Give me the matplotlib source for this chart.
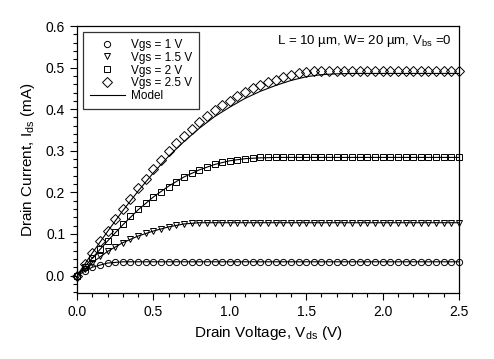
import numpy as np
import matplotlib
matplotlib.use("Agg")
import matplotlib.pyplot as plt
from matplotlib.ticker import MultipleLocator

plt.rcParams['font.family'] = ['Liberation Sans', 'DejaVu Sans']
plt.rcParams['mathtext.fontset'] = 'custom'
plt.rcParams['mathtext.rm'] = 'Liberation Sans'
plt.rcParams['mathtext.it'] = 'Liberation Sans'

# measured points, Vds step 0.05 V
vds = np.round(np.arange(0, 2.501, 0.05), 2)
ids_1v = [0, 0.011, 0.020, 0.026, 0.030, 0.032, 0.033, 0.033, 0.033, 0.033,
          0.033, 0.033, 0.033, 0.033, 0.033, 0.033, 0.033, 0.033, 0.033, 0.033,
          0.033, 0.033, 0.033, 0.033, 0.033, 0.033, 0.033, 0.033, 0.033, 0.033,
          0.033, 0.033, 0.033, 0.033, 0.033, 0.033, 0.033, 0.033, 0.033, 0.033,
          0.033, 0.033, 0.033, 0.033, 0.033, 0.033, 0.033, 0.033, 0.033, 0.033, 0.033]
ids_15v = [0, 0.016, 0.031, 0.046, 0.058, 0.069, 0.079, 0.087, 0.095, 0.102,
           0.107, 0.112, 0.117, 0.121, 0.124, 0.126, 0.127, 0.127, 0.127, 0.127,
           0.127, 0.127, 0.127, 0.127, 0.127, 0.127, 0.127, 0.127, 0.127, 0.127,
           0.127, 0.127, 0.127, 0.127, 0.127, 0.127, 0.127, 0.127, 0.127, 0.127,
           0.127, 0.127, 0.127, 0.127, 0.127, 0.127, 0.127, 0.127, 0.127, 0.127, 0.127]
ids_2v = [0, 0.021, 0.042, 0.063, 0.084, 0.104, 0.124, 0.143, 0.160, 0.175,
          0.189, 0.202, 0.214, 0.226, 0.237, 0.246, 0.254, 0.261, 0.267, 0.272,
          0.276, 0.279, 0.281, 0.283, 0.284, 0.284, 0.284, 0.284, 0.284, 0.284,
          0.284, 0.284, 0.284, 0.284, 0.284, 0.284, 0.284, 0.284, 0.284, 0.284,
          0.284, 0.284, 0.284, 0.284, 0.284, 0.284, 0.284, 0.284, 0.284, 0.284, 0.284]
ids_25v = [0, 0.028, 0.055, 0.082, 0.108, 0.135, 0.160, 0.185, 0.210, 0.233,
           0.255, 0.278, 0.300, 0.318, 0.336, 0.353, 0.369, 0.384, 0.397, 0.409,
           0.420, 0.431, 0.441, 0.450, 0.458, 0.465, 0.471, 0.477, 0.482, 0.486,
           0.489, 0.491, 0.492, 0.493, 0.493, 0.493, 0.493, 0.493, 0.493, 0.493,
           0.493, 0.493, 0.493, 0.493, 0.493, 0.493, 0.493, 0.493, 0.493, 0.493, 0.493]

# model curves, Vds step 0.1 V
vds_model = np.round(np.arange(0, 2.501, 0.1), 1)
model_1v = [0, 0.020, 0.030, 0.033, 0.033, 0.033, 0.033, 0.033, 0.033, 0.033,
            0.033, 0.033, 0.033, 0.033, 0.033, 0.033, 0.033, 0.033, 0.033, 0.033,
            0.033, 0.033, 0.033, 0.033, 0.033, 0.033]
model_15v = [0, 0.031, 0.058, 0.079, 0.095, 0.107, 0.117, 0.124, 0.127, 0.127,
             0.127, 0.127, 0.127, 0.127, 0.127, 0.127, 0.127, 0.127, 0.127, 0.127,
             0.127, 0.127, 0.127, 0.127, 0.127, 0.127]
model_2v = [0, 0.042, 0.083, 0.122, 0.158, 0.189, 0.215, 0.237, 0.254, 0.267,
            0.276, 0.281, 0.283, 0.284, 0.284, 0.284, 0.284, 0.284, 0.284, 0.284,
            0.284, 0.284, 0.284, 0.284, 0.284, 0.284]
model_25v = [0, 0.054, 0.106, 0.156, 0.203, 0.247, 0.287, 0.322, 0.354, 0.382,
             0.405, 0.426, 0.443, 0.457, 0.469, 0.478, 0.483, 0.485, 0.486, 0.486,
             0.486, 0.486, 0.486, 0.486, 0.486, 0.486]

fig = plt.figure(figsize=(4.94, 3.59), dpi=100)
ax = fig.add_axes([77 / 494, 1 - 293 / 359, (459 - 77) / 494, (293 - 26) / 359])

mk = dict(linestyle='none', markerfacecolor='none', markeredgecolor='black',
          markeredgewidth=0.7, clip_on=False)
ax.plot(vds, ids_1v, marker='o', markersize=4.5, label='Vgs = 1 V', **mk)
ax.plot(vds, ids_15v, marker='v', markersize=5, label='Vgs = 1.5 V', **mk)
ax.plot(vds, ids_2v, marker='s', markersize=4.4, label='Vgs = 2 V', **mk)
ax.plot(vds, ids_25v, marker='D', markersize=4.7, label='Vgs = 2.5 V', **mk)

for i, m in enumerate([model_1v, model_15v, model_2v, model_25v]):
    ax.plot(vds_model, m, color='black', linewidth=0.8,
            label='Model' if i == 0 else None)

ax.set_xlim(0, 2.5)
ax.set_ylim(-0.042, 0.6)
ax.xaxis.set_major_locator(MultipleLocator(0.5))
ax.xaxis.set_minor_locator(MultipleLocator(0.1))
ax.yaxis.set_major_locator(MultipleLocator(0.1))
ax.yaxis.set_minor_locator(MultipleLocator(0.02))
ax.xaxis.set_major_formatter(plt.FormatStrFormatter('%.1f'))
ax.yaxis.set_major_formatter(plt.FormatStrFormatter('%.1f'))
ax.tick_params(which='both', direction='out', top=False, right=False,
               labelsize=10, width=0.8)
ax.tick_params(which='major', length=5)
ax.tick_params(which='minor', length=3)
for s in ax.spines.values():
    s.set_linewidth(0.9)

ax.set_xlabel('Drain Voltage, V$_{\\mathrm{ds}}$ (V)', fontsize=11, labelpad=4)
ax.set_ylabel('Drain Current, I$_{\\mathrm{ds}}$ (mA)', fontsize=11, labelpad=6)

ax.text(0.98, 0.945, 'L = 10 µm, W= 20 µm, V$_{\\mathrm{bs}}$ =0',
        transform=ax.transAxes, ha='right', va='center', fontsize=9.5)

leg = ax.legend(loc='upper left', bbox_to_anchor=(0.016, 0.977), fontsize=8.5,
                frameon=True, fancybox=False, edgecolor='black',
                borderpad=0.55, labelspacing=0.08, handlelength=3.0,
                handletextpad=0.5, borderaxespad=0)
leg.get_frame().set_linewidth(0.9)

fig.savefig('out.png', dpi=100)
